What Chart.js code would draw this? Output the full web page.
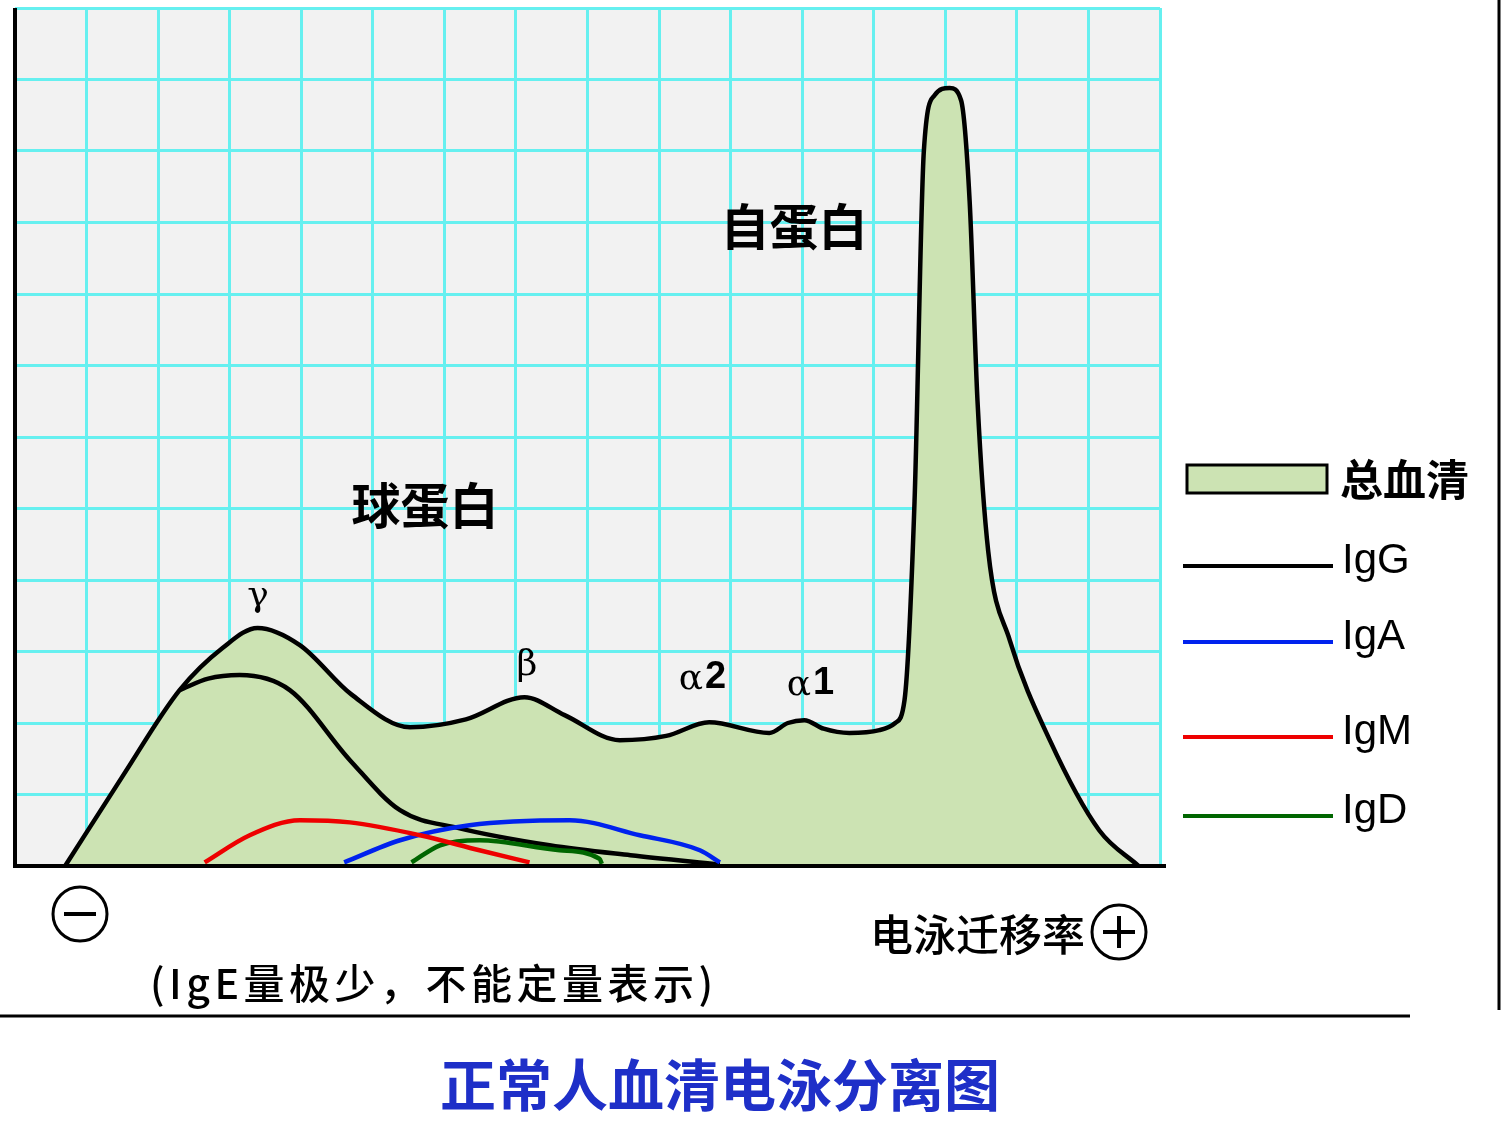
<!DOCTYPE html><html><head><meta charset="utf-8"><script src="https://cdn.jsdelivr.net/npm/chart.js@4"></script>
<style>html,body{margin:0;padding:0;background:#fff}#c{display:block}</style></head><body>
<div style="width:1501px;height:1125px"><canvas id="c"></canvas></div>
<script>
const totalX=[0.7,1.5,2.3,2.9,3.39,3.98,4.7,5.52,6.3,7.12,7.68,8.45,9.1,9.7,10.54,10.8,11.03,11.3,11.66,12.08,12.3,12.43,12.57,12.7,12.85,13.06,13.22,13.34,13.45,13.6,13.9,14.46,15.15,15.7];
const totalY=[0,1.25,2.46,3.05,3.33,3.09,2.4,1.94,2.05,2.36,2.11,1.76,1.82,2.01,1.86,2.0,2.04,1.92,1.86,1.9,2.0,2.32,5.1,10.0,10.78,10.88,10.71,9.3,6.5,4.4,3.16,1.76,0.5,0];
const iggX=[2.3,2.7,3.14,3.84,4.68,5.38,6.2,7.47,8.6,9.85];
const iggY=[2.46,2.62,2.67,2.46,1.48,0.78,0.53,0.29,0.15,0.02];
const igmX=[2.65,3.28,3.98,4.68,5.66,6.49,7.19];
const igmY=[0.05,0.43,0.64,0.61,0.43,0.22,0.05];
const igaX=[4.6,5.38,6.35,7.75,8.73,9.57,9.85];
const igaY=[0.05,0.36,0.57,0.64,0.43,0.22,0.05];
const igdX=[5.54,5.94,6.49,7.61,8.17,8.2];
const igdY=[0.05,0.29,0.36,0.22,0.1,0.03];
const pts=(xs,ys)=>xs.map((x,i)=>({x,y:ys[i]}));
const deco={id:'deco',
beforeDraw(ch){const{ctx,chartArea:a}=ch;ctx.save();ctx.fillStyle='#f2f2f2';ctx.fillRect(a.left,a.top,a.right-a.left,a.bottom-a.top);ctx.restore();},
afterDraw(ch){const ctx=ch.ctx,xs=ch.scales.x,ys=ch.scales.y;ctx.save();
 ctx.strokeStyle='#000';ctx.lineWidth=4;ctx.beginPath();ctx.moveTo(xs.left,ys.top);ctx.lineTo(xs.left,ys.bottom);ctx.lineTo(xs.right+6,ys.bottom);ctx.stroke();
 ctx.fillStyle='#000';ctx.textAlign='center';ctx.textBaseline='middle';
 ctx.font='bold 49px "Noto Sans CJK SC"';ctx.fillText('自蛋白',794,226);ctx.fillText('球蛋白',425,505);
 ctx.font='36px "DejaVu Serif",serif';ctx.fillText('γ',258,597);ctx.fillText('β',527,666);
 ctx.textAlign='right';ctx.fillText('α',703,680);ctx.fillText('α',811,686);
 ctx.textAlign='left';ctx.font='bold 38px "Liberation Sans"';ctx.fillText('2',705,678);ctx.fillText('1',813,684);
 ctx.fillStyle='#cce3b3';ctx.fillRect(1187,465,140,28);ctx.lineWidth=3;ctx.strokeStyle='#000';ctx.strokeRect(1187,465,140,28);
 ctx.fillStyle='#000';ctx.font='bold 43px "Noto Sans CJK SC"';ctx.fillText('总血清',1340,480);
 const L=[['IgG','#000',566],['IgA','#0022ee',642],['IgM','#ee0000',737],['IgD','#006600',816]];
 ctx.font='42px "Liberation Sans"';
 L.forEach(([t,c,y])=>{ctx.strokeStyle=c;ctx.lineWidth=4;ctx.beginPath();ctx.moveTo(1183,y);ctx.lineTo(1333,y);ctx.stroke();ctx.fillStyle='#000';ctx.fillText(t,1342,y-5);});
 ctx.strokeStyle='#000';ctx.lineWidth=3;
 ctx.beginPath();ctx.arc(80,914,27,0,Math.PI*2);ctx.stroke();ctx.lineWidth=4;ctx.beginPath();ctx.moveTo(64,914);ctx.lineTo(96,914);ctx.stroke();
 ctx.lineWidth=3;ctx.beginPath();ctx.arc(1119,932,27,0,Math.PI*2);ctx.stroke();ctx.lineWidth=4;ctx.beginPath();ctx.moveTo(1103,932);ctx.lineTo(1135,932);ctx.moveTo(1119,916);ctx.lineTo(1119,948);ctx.stroke();
 ctx.fillStyle='#000';ctx.font='500 43px "Noto Sans CJK SC"';ctx.textAlign='right';ctx.fillText('电泳迁移率',1085,935);
 ctx.textAlign='left';ctx.font='500 41px "Noto Sans CJK SC"';ctx.letterSpacing='4.5px';ctx.fillText('(IgE量极少，不能定量表示)',150,983);ctx.letterSpacing='0px';
 ctx.lineWidth=3;ctx.beginPath();ctx.moveTo(0,1016);ctx.lineTo(1410,1016);ctx.stroke();
 ctx.beginPath();ctx.moveTo(1499,0);ctx.lineTo(1499,1010);ctx.stroke();
 ctx.fillStyle='#1e2fc8';ctx.textAlign='center';ctx.font='bold 56px "Noto Sans CJK SC"';ctx.fillText('正常人血清电泳分离图',720,1085);
 ctx.restore();}};
const ds=(label,d,color,extra)=>Object.assign({label,data:d,borderColor:color,borderWidth:4.5,pointRadius:0,fill:false,cubicInterpolationMode:'monotone'},extra||{});
new Chart(document.getElementById('c'),{type:'line',plugins:[deco],
data:{datasets:[
 ds('IgM',pts(igmX,igmY),'#ee0000'),
 ds('IgA',pts(igaX,igaY),'#0022ee'),
 ds('IgD',pts(igdX,igdY),'#006600'),
 ds('IgG',pts(iggX,iggY),'#000'),
 ds('总血清',pts(totalX,totalY),'#000',{fill:'origin',backgroundColor:'#cce3b3'})
]},
options:{responsive:true,maintainAspectRatio:false,animation:false,
 layout:{padding:{left:15,right:341,top:8,bottom:259}},
 plugins:{legend:{display:false},tooltip:{enabled:false}},
 scales:{x:{type:'linear',min:0,max:16,ticks:{display:false,stepSize:1},grid:{color:'#66f0f0',lineWidth:3,drawTicks:false},border:{display:false}},
  y:{min:0,max:12,ticks:{display:false,stepSize:1},grid:{color:'#66f0f0',lineWidth:3,drawTicks:false},border:{display:false}}}}});
</script></body></html>
